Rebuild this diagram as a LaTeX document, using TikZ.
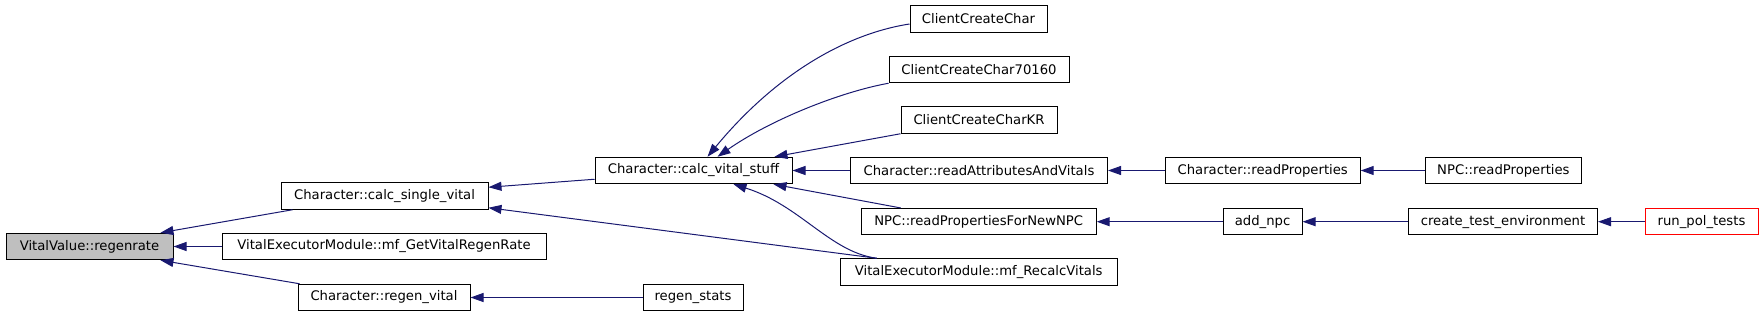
\documentclass[tikz,border=0pt]{standalone}
\usepackage{fontspec}
\setmainfont{DejaVu Sans}
\usepackage{tikz}
\usetikzlibrary{arrows.meta}
\definecolor{callblue}{HTML}{191970}
\tikzset{
  func/.style={rectangle, draw=black, fill=white, line width=1pt,
               minimum height=26.5pt, inner sep=0pt, align=center,
               font=\fontsize{13.2}{15}\selectfont},
  funcroot/.style={func, fill=black!25},
  funcfar/.style={func, draw=red},
  call/.style={-{Triangle[length=13pt,width=9pt]}, line width=1pt, callblue},
}

\begin{document}
\begin{tikzpicture}[x=1pt, y=-1pt]
  \useasboundingbox (0,0) rectangle (1763,316);
  \node[funcroot, minimum width=167pt] (regenrate) at (89.5,246.5) {VitalValue::regenrate};
  \node[func, minimum width=207pt] (calcsingle) at (384.5,196) {Character::calc\_single\_vital};
  \node[func, minimum width=324pt] (mfget) at (384,246.5) {VitalExecutorModule::mf\_GetVitalRegenRate};
  \node[func, minimum width=172pt] (regenvital) at (384,297.5) {Character::regen\_vital};
  \node[func, minimum width=197pt] (calcvital) at (693.5,170.5) {Character::calc\_vital\_stuff};
  \node[func, minimum width=100pt] (regenstats) at (693,297.5) {regen\_stats};
  \node[func, minimum width=137pt] (ccc) at (978.5,19) {ClientCreateChar};
  \node[func, minimum width=180pt] (cccnum) at (979,69.5) {ClientCreateChar70160};
  \node[func, minimum width=156pt] (ccckr) at (979,120) {ClientCreateCharKR};
  \node[func, minimum width=257pt] (readattr) at (979,170.5) {Character::readAttributesAndVitals};
  \node[func, minimum width=235pt] (readnewnpc) at (978.7,221.7) {NPC::readPropertiesForNewNPC};
  \node[func, minimum width=277pt] (mfrecalc) at (978.7,272) {VitalExecutorModule::mf\_RecalcVitals};
  \node[func, minimum width=195pt] (charprops) at (1262.7,170.5) {Character::readProperties};
  \node[func, minimum width=156pt] (npcprops) at (1503.4,170.5) {NPC::readProperties};
  \node[func, minimum width=79pt] (addnpc) at (1262.6,221.7) {add\_npc};
  \node[func, minimum width=189pt] (testenv) at (1503,221.7) {create\_test\_environment};
  \node[funcfar, minimum width=113pt] (poltests) at (1701.5,221.7) {run\_pol\_tests};

  \draw[call] ([xshift=12pt]calcsingle.south west) -- ([xshift=-13pt]regenrate.north east);
  \draw[call] (mfget) -- (regenrate);
  \draw[call] ([xshift=2pt]regenvital.north west) -- ([xshift=-13pt]regenrate.south east);
  \draw[call] ([yshift=5pt]calcvital.south west) -- ([yshift=-5pt]calcsingle.north east);
  \draw[call] ([xshift=37pt]mfrecalc.north west) -- ([yshift=2pt]calcsingle.south east);
  \draw[call] (regenstats) -- (regenvital);
  \draw[call] ([yshift=-5pt]ccc.west) .. controls (845,34) and (775,75) .. ([xshift=14pt]calcvital.north);
  \draw[call] (cccnum.south west) .. controls (840,92) and (770,120) .. ([xshift=24pt]calcvital.north);
  \draw[call] (ccckr.south west) -- ([xshift=81pt]calcvital.north);
  \draw[call] (readattr) -- (calcvital);
  \draw[call] ([xshift=40pt]readnewnpc.north west) -- ([xshift=-19pt]calcvital.south east);
  \draw[call] ([xshift=37pt]mfrecalc.north west) .. controls (830,252) and (800,205) .. ([xshift=40pt]calcvital.south);
  \draw[call] (charprops) -- (readattr);
  \draw[call] (npcprops) -- (charprops);
  \draw[call] (addnpc) -- (readnewnpc);
  \draw[call] (testenv) -- (addnpc);
  \draw[call] (poltests) -- (testenv);
\end{tikzpicture}
\end{document}
